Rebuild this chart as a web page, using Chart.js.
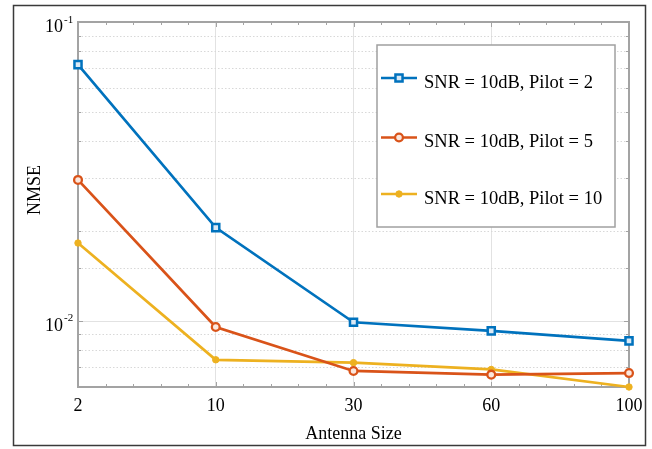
<!DOCTYPE html>
<html>
<head>
<meta charset="utf-8">
<script src="https://cdn.jsdelivr.net/npm/chart.js@4/dist/chart.umd.min.js"></script>
<style>
  html, body { margin: 0; padding: 0; background: #ffffff; }
  #wrap { width: 652px; height: 449px; }
</style>
</head>
<body>
<div id="wrap"><canvas id="c" width="652" height="449"></canvas></div>
<script>
// Antenna sizes along the horizontal axis (equally spaced categories)
const categories = ['2', '10', '30', '60', '100'];

// NMSE for each pilot length at SNR = 10 dB
const pilot2  = [0.0720, 0.0205, 0.00988, 0.00925, 0.00856];
const pilot5  = [0.0296, 0.00953, 0.00679, 0.00660, 0.00668];
const pilot10 = [0.0182, 0.00740, 0.00724, 0.00687, 0.00600];

const seriesNames = ['SNR = 10dB, Pilot = 2', 'SNR = 10dB, Pilot = 5', 'SNR = 10dB, Pilot = 10'];

// Decade tick labels on the log axis: value and exponent text
const yDecadeValues = [0.1, 0.01];
const yDecadeExponents = ['-1', '-2'];

const xTitle = 'Antenna Size';
const yTitle = 'NMSE';

const SERIF = '"Liberation Serif", "Times New Roman", serif';
const BLUE = '#0072BD', RED = '#D95319', YELLOW = '#EDB120';
const AXIS = '#a3a3a3';

function toPoints(arr) { return arr.map((v, i) => ({ x: i, y: v })); }

function isDecade(v) {
  const lg = Math.log10(v);
  return Math.abs(lg - Math.round(lg)) < 1e-6;
}

// Grid, inward tick marks and the axes box, drawn under the data
const axesBox = {
  id: 'axesBox',
  beforeDatasetsDraw(chart) {
    const { ctx, chartArea: a, scales: { x, y } } = chart;
    ctx.save();
    // horizontal grid: solid at decades, dotted at minor values
    y.ticks.forEach(t => {
      const py = Math.round(y.getPixelForValue(t.value)) + 0.5;
      if (py <= a.top + 1 || py >= a.bottom - 1) return;
      const major = isDecade(t.value);
      ctx.beginPath();
      ctx.strokeStyle = major ? '#e2e2e2' : '#d8d8d8';
      ctx.lineWidth = 1;
      ctx.setLineDash(major ? [] : [1.5, 2]);
      ctx.moveTo(a.left, py); ctx.lineTo(a.right, py);
      ctx.stroke();
    });
    ctx.setLineDash([]);
    ctx.strokeStyle = AXIS;
    ctx.lineWidth = 1;
    // y tick marks (left and right, pointing inward)
    y.ticks.forEach(t => {
      const py = Math.round(y.getPixelForValue(t.value)) + 0.5;
      const len = isDecade(t.value) ? 5 : 3;
      ctx.beginPath();
      ctx.moveTo(a.left, py); ctx.lineTo(a.left + len, py);
      ctx.moveTo(a.right, py); ctx.lineTo(a.right - len, py);
      ctx.stroke();
    });
    // x tick marks: majors at categories, four minors between
    for (let k = 0; k <= 20; k++) {
      const v = k / 5;
      const px = Math.round(x.getPixelForValue(v)) + 0.5;
      const len = (k % 5 === 0) ? 5 : 3;
      ctx.beginPath();
      ctx.moveTo(px, a.bottom); ctx.lineTo(px, a.bottom - len);
      ctx.moveTo(px, a.top); ctx.lineTo(px, a.top + len);
      ctx.stroke();
    }
    // axes box
    ctx.lineWidth = 2;
    ctx.strokeRect(a.left, a.top, a.right - a.left, a.bottom - a.top);
    ctx.restore();
  },
  afterDraw(chart) {
    const { ctx, chartArea: a, scales: { y } } = chart;
    ctx.save();
    ctx.fillStyle = '#000';
    // decade labels with superscript exponents
    yDecadeValues.forEach((v, i) => {
      const py = y.getPixelForValue(v);
      ctx.font = '18px ' + SERIF;
      ctx.textAlign = 'right';
      ctx.textBaseline = 'alphabetic';
      ctx.fillText('10', 63, py + 10);
      ctx.font = '11px ' + SERIF;
      ctx.textAlign = 'left';
      ctx.fillText(yDecadeExponents[i], 64, py + 0.5);
    });
    // axis titles
    ctx.font = '18px ' + SERIF;
    ctx.textAlign = 'center';
    ctx.textBaseline = 'alphabetic';
    ctx.fillText(xTitle, (a.left + a.right) / 2, 439);
    ctx.save();
    ctx.translate(40, 190);
    ctx.rotate(-Math.PI / 2);
    ctx.fillText(yTitle, 0, 0);
    ctx.restore();

    // legend box
    const lx = 377, ly = 45, lw = 238, lh = 182;
    ctx.fillStyle = '#ffffff';
    ctx.fillRect(lx, ly, lw, lh);
    ctx.strokeStyle = '#a0a0a0';
    ctx.lineWidth = 1.5;
    ctx.strokeRect(lx, ly, lw, lh);
    const rowsY = [78, 137.5, 194];
    chart.data.datasets.forEach((ds, i) => {
      const ry = rowsY[i];
      ctx.strokeStyle = ds.borderColor;
      ctx.lineWidth = ds.borderWidth;
      ctx.beginPath();
      ctx.moveTo(381, ry); ctx.lineTo(417, ry);
      ctx.stroke();
      ctx.fillStyle = ds.pointBackgroundColor;
      ctx.strokeStyle = ds.borderColor;
      ctx.lineWidth = ds.pointBorderWidth;
      ctx.beginPath();
      if (ds.pointStyle === 'rect') {
        const s = Math.SQRT1_2 * ds.pointRadius;
        ctx.rect(399 - s, ry - s, 2 * s, 2 * s);
      } else {
        ctx.arc(399, ry, ds.pointRadius, 0, Math.PI * 2);
      }
      ctx.fill();
      ctx.stroke();
      ctx.fillStyle = '#000';
      ctx.font = '18.5px ' + SERIF;
      ctx.textAlign = 'left';
      ctx.textBaseline = 'alphabetic';
      ctx.fillText(ds.label, 424, ry + 9.5);
    });

    // outer frame
    ctx.strokeStyle = '#3a3a3a';
    ctx.lineWidth = 1.5;
    ctx.strokeRect(13.5, 5.5, 632, 440);
    ctx.restore();
  }
};

new Chart(document.getElementById('c'), {
  type: 'line',
  data: {
    datasets: [
      { label: seriesNames[0], data: toPoints(pilot2), borderColor: BLUE, borderWidth: 2.7,
        pointStyle: 'rect', pointRadius: 5, pointBorderWidth: 2.5, pointBackgroundColor: '#dbe9f5',
        pointBorderColor: BLUE, clip: false },
      { label: seriesNames[1], data: toPoints(pilot5), borderColor: RED, borderWidth: 2.7,
        pointStyle: 'circle', pointRadius: 3.9, pointBorderWidth: 2.3, pointBackgroundColor: '#fbe7dd',
        pointBorderColor: RED, clip: false },
      { label: seriesNames[2], data: toPoints(pilot10), borderColor: YELLOW, borderWidth: 2.7,
        pointStyle: 'circle', pointRadius: 3.2, pointBorderWidth: 1, pointBackgroundColor: YELLOW,
        pointBorderColor: YELLOW, clip: false }
    ]
  },
  options: {
    responsive: false,
    animation: false,
    devicePixelRatio: 1,
    layout: { padding: { left: 0, top: 22, right: 23, bottom: 0 } },
    plugins: { legend: { display: false }, tooltip: { enabled: false } },
    elements: { line: { tension: 0 } },
    scales: {
      x: {
        type: 'linear', min: 0, max: categories.length - 1,
        afterFit: s => { s.height = 62; },
        ticks: {
          stepSize: 1, autoSkip: false, maxRotation: 0, padding: 8,
          color: '#000', font: { family: SERIF, size: 18 },
          callback: v => categories[v]
        },
        grid: {
          drawTicks: false, lineWidth: 1,
          color: c => (c.tick && (c.tick.value === 0 || c.tick.value === categories.length - 1)) ? 'rgba(0,0,0,0)' : '#e2e2e2'
        },
        border: { display: false }
      },
      y: {
        type: 'logarithmic', min: 0.006, max: 0.1,
        afterFit: s => { s.width = 78; },
        ticks: { display: false },
        grid: { display: false },
        border: { display: false }
      }
    }
  },
  plugins: [axesBox]
});
</script>
</body>
</html>
